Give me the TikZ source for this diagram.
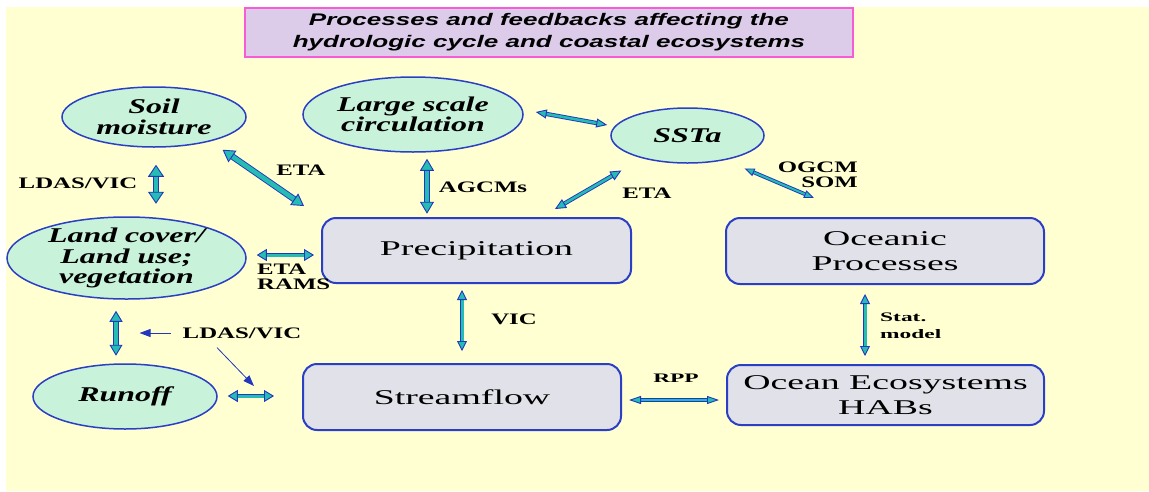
\documentclass[tikz,border=0pt]{standalone}
\usepackage{fontspec}
\setmainfont{Liberation Serif}
\newfontfamily\ovalfont[FakeStretch=1.52]{Liberation Serif}
\newfontfamily\boxfont[FakeStretch=1.8]{Liberation Serif}
\newfontfamily\tagfont[FakeStretch=1.55]{Liberation Serif}
\newfontfamily\notefont[FakeStretch=1.8]{Liberation Serif}
\newfontfamily\headfont[FakeStretch=1.55]{Liberation Sans}
\usetikzlibrary{arrows.meta, shapes.geometric, calc}
\definecolor{paper}{HTML}{FFFFD2}
\definecolor{mint}{HTML}{C8F2DA}
\definecolor{lilac}{HTML}{DCCCEA}
\definecolor{pinkline}{HTML}{F55CD6}
\definecolor{boxgray}{HTML}{E1E1EA}
\definecolor{rimblue}{HTML}{2B3FC4}
\definecolor{arrblue}{HTML}{2236BE}
\definecolor{arrteal}{HTML}{25BDB3}

\begin{document}
\begin{tikzpicture}[x=1pt, y=-1pt,
  oval/.style={
    ellipse, draw=rimblue, line width=1.5pt, fill=mint,
    inner sep=0pt, align=center,
    font=\ovalfont\bfseries\itshape\fontsize{21}{20.5}\selectfont
  },
  procbox/.style={
    rectangle, draw=rimblue, line width=2pt, fill=boxgray,
    rounded corners=14pt, inner sep=0pt, align=center,
    font=\boxfont\fontsize{21}{25}\selectfont
  },
  tag/.style={
    font=\tagfont\bfseries\fontsize{16}{15.5}\selectfont, inner sep=0pt
  },
  smalltag/.style={
    font=\notefont\bfseries\fontsize{13}{17}\selectfont, inner sep=0pt
  },
  twoway/.style n args={3}{
    draw=arrblue, line width=0.9pt, double=arrteal, double distance=#1,
    {Triangle[length=#2, width=#3, fill=arrteal, line width=0.9pt]}-{Triangle[length=#2, width=#3, fill=arrteal, line width=0.9pt]}
  },
  thinarr/.style={-{Triangle[length=11pt, width=8pt]}, arrblue, line width=0.8pt},
]

% Background
\useasboundingbox (0,0) rectangle (1149,491);
\fill[white] (0,0) rectangle (1149,491);
\fill[paper] (6,7) rectangle (1149,491);

% Title
\node[draw=pinkline, line width=1.5pt, fill=lilac, minimum width=608pt,
  minimum height=49pt, inner sep=0pt, align=center,
  font=\headfont\bfseries\itshape\fontsize{16.8}{22}\selectfont]
  (title) at (549,32.5)
  {Processes and feedbacks affecting the\\hydrologic cycle and coastal ecosystems};

% ---- Ellipses ----
\node[oval, minimum width=184pt, minimum height=60pt] (soil) at (154,117) {Soil\\moisture};
\node[oval, minimum width=220pt, minimum height=75pt] (circ) at (413,114.5) {Large scale\\circulation};
\node[oval, minimum width=153pt, minimum height=55pt] (ssta) at (687.5,135.5) {SSTa};
\node[oval, minimum width=239pt, minimum height=82pt, inner ysep=-3pt] (land) at (126.5,258)
  {Land cover/\\Land use;\\vegetation};
\node[oval, minimum width=184pt, minimum height=65pt] (runoff) at (125,396.5) {Runoff};

% ---- Boxes ----
\node[procbox, minimum width=309pt, minimum height=65pt] (precip) at (476.5,250.5) {Precipitation};
\node[procbox, minimum width=318pt, minimum height=66pt] (ocproc) at (885,251) {Oceanic\\Processes};
\node[procbox, minimum width=318pt, minimum height=66pt] (stream) at (462,397) {Streamflow};
\node[procbox, minimum width=317pt, minimum height=60pt] (ecosys) at (885.5,395) {Ocean Ecosystems\\HABs};

% ---- Labels ----
\node[tag] (ldasa) at (78,183) {LDAS/VIC};
\node[tag] (etaa) at (301,170) {ETA};
\node[tag, anchor=west, align=left] (etarams) at (257,277) {ETA\\RAMS};
\node[tag] (agcms) at (483,187) {AGCMs};
\node[tag] (etab) at (647,193) {ETA};
\node[tag, anchor=east, align=right] (ogcm) at (858,175) {OGCM\\SOM};
\node[tag] (vic) at (514,319) {VIC};
\node[smalltag, anchor=west, align=left] (stat) at (880,325.5) {Stat.\\model};
\node[smalltag] (rpp) at (676,378) {RPP};
\node[tag] (ldasb) at (242,333) {LDAS/VIC};

% ---- Double arrows ----
\draw[twoway={4.5pt}{12pt}{16pt}] ($(soil.south)+(2,17)$) -- ++(0,39);
\draw[twoway={4.5pt}{12pt}{14pt}] ($(soil.south east)+(3,11)$) -- ($(precip.north west)+(-17,-11)$);
\draw[twoway={3pt}{10pt}{12pt}] ($(land.east)+(10,-3)$) -- ($(precip.west)+(-7,4.5)$);
\draw[twoway={4.5pt}{12pt}{14pt}] ($(circ.south)+(14,6)$) -- ++(0,55);
\draw[twoway={2.5pt}{11pt}{9pt}] ($(circ.east)+(12,-2.5)$) -- ($(ssta.west)+(-3,-10.5)$);
\draw[twoway={2.5pt}{11pt}{10pt}] ($(ssta.south west)+(-11.5,15)$) -- ($(precip.north)+(78.5,-8)$);
\draw[twoway={2pt}{10pt}{8pt}] ($(ssta.south east)+(2.5,13)$) -- ($(ocproc.north)+(-71,-19)$);
\draw[twoway={3pt}{10pt}{10pt}] ($(precip.south)+(-14.5,6)$) -- ++(0,61);
\draw[twoway={3pt}{10pt}{10pt}] ($(ocproc.south)+(-20,9)$) -- ++(0,62);
\draw[twoway={2pt}{12pt}{8pt}] ($(stream.east)+(7,3)$) -- ($(ecosys.west)+(-7,5)$);
\draw[twoway={3.5pt}{11pt}{13pt}] ($(land.south)+(-10.5,11)$) -- ++(0,45);
\draw[twoway={3pt}{10pt}{12pt}] ($(runoff.east)+(10,-0.5)$) -- ($(stream.west)+(-28,-1)$);

% LDAS/VIC pointers
\draw[thinarr] ($(ldasb.west)+(-12,0)$) -- ++(-31,0);
\draw[thinarr] ($(ldasb.south)+(-25,9)$) -- ($(stream.north west)+(-48,23)$);

\end{tikzpicture}
\end{document}
